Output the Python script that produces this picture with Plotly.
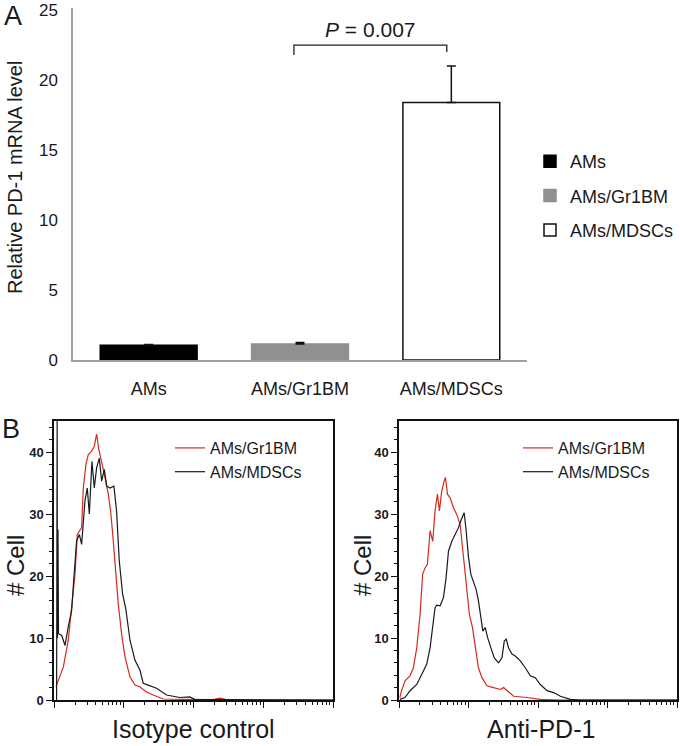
import plotly.graph_objects as go

# Panel A: relative PD-1 mRNA level
groups = ['AMs', 'AMs/Gr1BM', 'AMs/MDSCs']
mrna_level = [1.05, 1.15, 18.4]
mrna_error = [0.05, 0.1, 2.6]
bar_fill = ['#000000', '#909090', '#ffffff']
bar_edge = ['#000000', '#909090', '#111111']
p_text = '<i>P</i> = 0.007'

# Panel B: flow histograms (fluorescence intensity, cell count)
iso_gr1_x = [1.07, 1.36, 1.60, 1.79, 2.0, 2.16, 2.31, 2.49, 2.63, 2.87, 3.10, 3.46, 3.78,
             4.08, 4.36, 4.82, 5.37, 6.0, 6.55, 7.07, 7.64, 8.34, 9.31, 10.4, 12.3, 14.5,
             17.1, 21.2, 26.4, 36.8, 71, 99, 191, 238, 296, 10000]
iso_gr1_y = [2.2, 5.3, 9.6, 15.0, 20.3, 26.7, 27.3, 27.8, 34.2, 38.0, 39.6, 40.1, 40.9,
             42.9, 40.6, 38.5, 36.0, 33.2, 30.0, 25.7, 20.3, 15.5, 10.7, 7.0, 3.7, 2.4,
             2.1, 1.3, 0.8, 0.16, 0.1, 0.05, 0.05, 0.3, 0.05, 0]

iso_mdsc_x = [1.09, 1.11, 1.12, 1.14, 1.16, 1.29, 1.44, 1.60, 1.79, 1.93, 2.11, 2.31, 2.49,
              2.78, 3.0, 3.21, 3.50, 3.78, 4.08, 4.46, 4.82, 5.26, 5.68, 6.34, 7.23, 7.89,
              8.62, 9.62, 10.7, 12.3, 14.5, 17.1, 19.0, 22.4, 29.5, 41.1, 63.7, 88.5, 104,
              370, 10000]
iso_mdsc_y = [0, 45, 10.0, 27.5, 10.7, 10.4, 8.8, 11.8, 14.4, 19.8, 25.7, 26.7, 25.1,
              32.1, 34.2, 30.0, 38.5, 34.2, 37.4, 39.0, 35.3, 37.2, 34.5, 34.2, 34.5, 30.5,
              22.5, 17.1, 14.7, 9.6, 6.4, 4.8, 2.7, 2.4, 1.9, 0.8, 0.4, 0.5, 0.1,
              0.05, 0]

pd1_gr1_x = [1.03, 1.09, 1.22, 1.44, 1.61, 1.80, 2.01, 2.19, 2.37, 2.56, 2.80, 3.06, 3.30,
             3.57, 3.82, 4.12, 4.46, 4.66, 4.98, 5.44, 6.08, 6.79, 7.58, 8.28, 9.25, 10.3,
             11.4, 12.5, 13.9, 15.6, 18.4, 22.9, 28.6, 32.0, 35.7, 44.6, 69.4, 108, 210,
             10000]
pd1_gr1_y = [0.4, 1.5, 3.1, 3.9, 5.2, 8.4, 13.8, 20.3, 21.3, 21.9, 27.3, 25.6, 30.5,
             33.2, 30.5, 33.7, 35.3, 35.9, 33.2, 32.6, 31.0, 29.9, 28.3, 24.0, 18.1, 13.8,
             11.7, 8.4, 5.2, 3.6, 2.3, 2.0, 1.7, 2.0, 1.5, 0.6, 0.4, 0.1, 0,
             0]

pd1_mdsc_x = [1.03, 1.22, 1.44, 1.80, 2.12, 2.51, 2.80, 3.06, 3.30, 3.49, 3.90, 4.36, 4.76,
              5.15, 5.75, 6.42, 7.17, 7.75, 8.28, 8.66, 9.25, 10.0, 10.8, 11.8, 12.9, 13.9,
              15.1, 16.1, 17.4, 18.8, 21.0, 23.5, 27.1, 30.3, 32.7, 34.9, 37.8, 42.2, 47.1,
              55.6, 65.6, 77.5, 91.5, 108, 135, 168, 210, 293, 408, 10000]
pd1_mdsc_y = [0.1, 0.4, 1.5, 2.5, 4.1, 5.8, 8.4, 11.7, 14.9, 15.3, 15.2, 16.5, 19.7,
              24.0, 25.6, 26.7, 27.8, 28.9, 29.9, 30.2, 27.3, 23.0, 20.3, 19.2, 17.8, 16.0,
              13.3, 11.1, 11.7, 10.1, 8.4, 6.8, 6.0, 6.8, 9.5, 9.8, 8.4, 7.4, 7.1,
              6.3, 5.2, 3.9, 3.6, 2.5, 1.5, 1.2, 0.6, 0.1, 0, 0]

RED = '#d42a1e'
INK = '#1a1a1a'
FONT = 'Liberation Sans, Arial, sans-serif'

fig = go.Figure()

for i, g in enumerate(groups):
    fig.add_trace(go.Bar(
        x=[g], y=[mrna_level[i]], name=g, width=0.64,
        marker=dict(color=bar_fill[i], line=dict(color=bar_edge[i], width=1.5)),
        error_y=dict(type='data', symmetric=False, array=[mrna_error[i]], arrayminus=[0],
                     color='#111111', thickness=1.5, width=4.5),
        legend='legend', legendgroup=g, xaxis='x', yaxis='y'))

hist = [
    (iso_gr1_x, iso_gr1_y, 'AMs/Gr1BM', RED, 'x2', 'y2', 'legend2'),
    (iso_mdsc_x, iso_mdsc_y, 'AMs/MDSCs', INK, 'x2', 'y2', 'legend2'),
    (pd1_gr1_x, pd1_gr1_y, 'AMs/Gr1BM', RED, 'x3', 'y3', 'legend3'),
    (pd1_mdsc_x, pd1_mdsc_y, 'AMs/MDSCs', INK, 'x3', 'y3', 'legend3'),
]
for k, (hx, hy, name, col, xa, ya, lg) in enumerate(hist):
    fig.add_trace(go.Scatter(x=hx, y=hy, mode='lines', name=name,
                             line=dict(color=col, width=1.2), legendgroup=f'h{k}',
                             xaxis=xa, yaxis=ya, legend=lg, cliponaxis=True))

hist_x = dict(type='log', range=[0, 4], showline=True, linecolor='#111111', linewidth=1.5,
              mirror=True, ticks='outside', ticklen=6, tickcolor='#111111', dtick=1,
              showticklabels=False, showgrid=False, zeroline=False, automargin=False,
              minor=dict(ticks='outside', ticklen=3, tickcolor='#111111', dtick='D1'))
hist_y = dict(range=[0, 45], showline=True, linecolor='#111111', linewidth=1.5, mirror=True,
              ticks='outside', ticklen=6, tickcolor='#111111', dtick=10, automargin=False,
              tickfont=dict(size=13, color=INK, weight='bold'), showgrid=False, zeroline=False,
              minor=dict(ticks='outside', ticklen=3, tickcolor='#111111', dtick=2))

fig.update_layout(
    width=680, height=746,
    margin=dict(l=0, r=0, t=0, b=0),
    paper_bgcolor='white', plot_bgcolor='white',
    font=dict(family=FONT, color=INK),
    barmode='overlay',
    xaxis=dict(domain=[73 / 680, 527 / 680], range=[-0.5, 2.5], showline=True,
               linecolor='#a0a0a0', linewidth=1.5, ticks='', showgrid=False, automargin=False,
               tickfont=dict(size=18, color=INK), ticklabelstandoff=12, anchor='y'),
    yaxis=dict(domain=[1 - 360 / 746, 1 - 8 / 746], range=[0, 25.15], automargin=False,
               tickvals=[0, 5, 10, 15, 20, 25], showline=True, ticklabeloverflow='allow',
               linecolor='#a0a0a0', linewidth=1.5, ticks='', showgrid=False, zeroline=False,
               tickfont=dict(size=17, color=INK), ticklabelstandoff=10, anchor='x'),
    xaxis2=dict(hist_x, domain=[54 / 680, 333 / 680], anchor='y2'),
    yaxis2=dict(hist_y, domain=[1 - 700 / 746, 1 - 421 / 746], anchor='x2'),
    xaxis3=dict(hist_x, domain=[399 / 680, 677 / 680], anchor='y3'),
    yaxis3=dict(hist_y, domain=[1 - 700 / 746, 1 - 421 / 746], anchor='x3'),
    legend=dict(x=530 / 680, y=1 - 143 / 746, xanchor='left', yanchor='top',
                font=dict(size=18, color=INK), tracegroupgap=8, bgcolor='rgba(0,0,0,0)'),
    legend2=dict(x=170 / 680, y=1 - 431 / 746, xanchor='left', yanchor='top',
                 font=dict(size=16, color=INK), tracegroupgap=0, bgcolor='rgba(0,0,0,0)'),
    legend3=dict(x=518 / 680, y=1 - 431 / 746, xanchor='left', yanchor='top',
                 font=dict(size=16, color=INK), tracegroupgap=0, bgcolor='rgba(0,0,0,0)'),
)

# significance bracket between AMs/Gr1BM and AMs/MDSCs
top = mrna_level[2] + mrna_error[2]
yb = top + 1.5
fig.add_shape(type='path', xref='x', yref='y',
              path=f'M 0.96,{yb - 0.7} L 0.96,{yb} L 1.97,{yb} L 1.97,{yb - 0.5}',
              line=dict(color='#222222', width=1.3))
fig.add_annotation(x=1.465, y=yb + 1.1, xref='x', yref='y', text=p_text, showarrow=False,
                   font=dict(size=21, color=INK), xanchor='center', yanchor='middle')

labels = [
    (13, 16, 'A', 27, 0),
    (11, 429, 'B', 27, 0),
    (15, 178, 'Relative PD-1 mRNA level', 20, -90),
    (15, 566, '# Cell', 24, -90),
    (362, 566, '# Cell', 24, -90),
    (193, 729, 'Isotype control', 25, 0),
    (541, 729, 'Anti-PD-1', 25, 0),
]
for px, py, txt, size, ang in labels:
    fig.add_annotation(x=px / 680, y=1 - py / 746, xref='paper', yref='paper', text=txt,
                       textangle=ang, showarrow=False, xanchor='center', yanchor='middle',
                       font=dict(size=size, color=INK))

pin_page = ("document.body.style.margin='0px';"
            "var d=document.querySelector('.plotly-graph-div');"
            "d.style.position='fixed';d.style.top='0px';d.style.left='0px';")
fig.write_html('out.html', config={'displayModeBar': False}, post_script=pin_page)
